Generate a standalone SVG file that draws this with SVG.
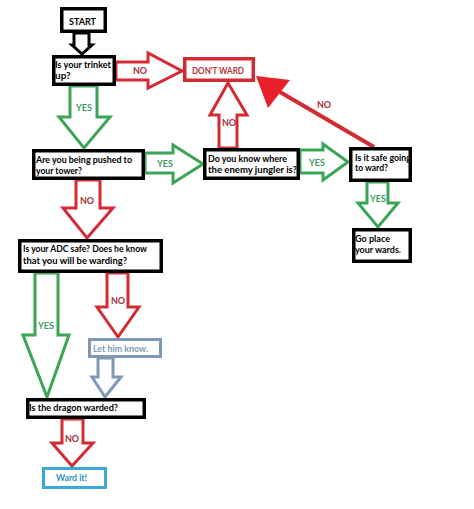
<svg xmlns="http://www.w3.org/2000/svg" width="474" height="509" viewBox="0 0 474 509">
<style>
.bg{fill:#fff}
.bx{fill:#fff;stroke:#000;stroke-width:3.5}
.rbx{fill:#fff;stroke:#d42a33;stroke-width:3.5}
.blbx{fill:#fff;stroke:#7f98b8;stroke-width:3}
.cybx{fill:#fff;stroke:#3aa8db;stroke-width:3}
.ag{fill:#fff;stroke:#3aa655;stroke-width:3;stroke-linejoin:miter}
.ar{fill:#fff;stroke:#d42a33;stroke-width:3;stroke-linejoin:miter}
.ak{fill:#fff;stroke:#000;stroke-width:3}
.ab{fill:#fff;stroke:#7f98b8;stroke-width:3}
text{font-family:Lato,"Liberation Sans",sans-serif;font-weight:bold;font-size:10px}
.t{fill:#000}
.yes{fill:#3c9a62;font-size:9px}
.no{fill:#a8303a;font-size:9px}
.rt{fill:#b5343b}
.bt{fill:#7f98b8}
.ct{fill:#2c8fc0}
</style>
<rect class="bg" x="0" y="0" width="474" height="509"/>
<g id="connectors">
<polygon class="ak" points="74,33 89,33 89,45 92,45 82,54 72,45 74,45"/>
<polygon class="ar" points="116,62 148,62 148,53 182,71 148,88 148,80 116,80"/>
<polygon class="ag" points="70,86 97,86 97,117 110,117 84,148 59,117 70,117"/>
<polygon class="ag" points="145,153 173,153 173,145 203,164 173,183 173,173 145,173"/>
<polygon class="ar" points="219,148 219,115 210,115 228,83 247,115 237,115 237,148"/>
<polygon class="ag" points="300,150 323,150 323,144 348,162 323,180 323,173 300,173"/>
<line x1="374" y1="147" x2="280" y2="92" stroke="#d42a33" stroke-width="4"/>
<polygon points="256,76 290,80 268,108" fill="#e8202a"/>
<polygon class="ag" points="367,182 388,182 388,203 398,203 378,227 358,203 367,203"/>
<polygon class="ar" points="76,180 100,180 100,208 113,208 87,238 63,208 76,208"/>
<polygon class="ag" points="35,273 58,273 58,335 69,335 47,397 23,335 35,335"/>
<polygon class="ar" points="107,273 128,273 128,307 139,307 118,337 97,307 107,307"/>
<polygon class="ab" points="98,358 113,358 113,377 121,377 105,397 92,377 98,377"/>
<polygon class="ar" points="62,419 83,419 83,443 93,443 72,466 52,443 62,443"/>
<text class="no" x="140" y="74" text-anchor="middle">NO</text>
<text class="yes" x="84" y="111" text-anchor="middle">YES</text>
<text class="yes" x="165" y="167" text-anchor="middle">YES</text>
<text class="no" x="229" y="126" text-anchor="middle">NO</text>
<text class="yes" x="317" y="166" text-anchor="middle">YES</text>
<text class="no" x="324" y="108" text-anchor="middle">NO</text>
<text class="yes" x="378" y="202" text-anchor="middle">YES</text>
<text class="no" x="87" y="204" text-anchor="middle">NO</text>
<text class="yes" x="46" y="329" text-anchor="middle">YES</text>
<text class="no" x="118" y="304" text-anchor="middle">NO</text>
<text class="no" x="72" y="442" text-anchor="middle">NO</text>
</g>
<g id="start">
<rect class="bx" x="61.75" y="8.75" width="43.5" height="22.5"/>
<text class="t" x="82.5" y="24.5" text-anchor="middle" textLength="27" lengthAdjust="spacingAndGlyphs">START</text>
</g>
<g id="trinket">
<rect class="bx" x="53.75" y="56.75" width="60.5" height="27.5"/>
<text class="t" x="55" y="67.5" textLength="56" lengthAdjust="spacingAndGlyphs">Is your trinket</text>
<text class="t" x="55" y="78.5">up?</text>
</g>
<g id="dontward">
<rect class="rbx" x="184.75" y="58.75" width="68.5" height="21.5"/>
<text class="rt" x="218" y="73.5" text-anchor="middle" textLength="52" lengthAdjust="spacingAndGlyphs">DON'T WARD</text>
</g>
<g id="pushed">
<rect class="bx" x="33.75" y="150.75" width="109.5" height="27.5"/>
<text class="t" x="36" y="162.5" textLength="96" lengthAdjust="spacingAndGlyphs">Are you being pushed to</text>
<text class="t" x="36" y="174" textLength="46" lengthAdjust="spacingAndGlyphs">your tower?</text>
</g>
<g id="jungler">
<rect class="bx" x="204.75" y="149.75" width="93.5" height="28.5"/>
<text class="t" x="208" y="161.5" textLength="79" lengthAdjust="spacingAndGlyphs">Do you know where</text>
<text class="t" x="208" y="172.5" textLength="89" lengthAdjust="spacingAndGlyphs">the enemy jungler is?</text>
</g>
<g id="safe">
<rect class="bx" x="350.75" y="148.75" width="59.5" height="31.5"/>
<text class="t" x="355" y="160.5" textLength="56" lengthAdjust="spacingAndGlyphs">Is it safe going</text>
<text class="t" x="355" y="171" textLength="33" lengthAdjust="spacingAndGlyphs">to ward?</text>
</g>
<g id="goplace">
<rect class="bx" x="353.75" y="229.75" width="56.5" height="31.5"/>
<text class="t" x="355" y="241.5" textLength="35" lengthAdjust="spacingAndGlyphs">Go place</text>
<text class="t" x="355" y="252.5" textLength="46" lengthAdjust="spacingAndGlyphs">your wards.</text>
</g>
<g id="adc">
<rect class="bx" x="19.75" y="240.75" width="141.5" height="30.5"/>
<text class="t" x="23" y="251.5" textLength="124" lengthAdjust="spacingAndGlyphs">Is your ADC safe? Does he know</text>
<text class="t" x="23" y="263.5" textLength="104" lengthAdjust="spacingAndGlyphs">that you will be warding?</text>
</g>
<g id="lethim">
<rect class="blbx" x="89.5" y="339.5" width="71" height="17"/>
<text class="bt" x="93" y="351.5" textLength="55" lengthAdjust="spacingAndGlyphs">Let him know.</text>
</g>
<g id="dragon">
<rect class="bx" x="27.75" y="399.75" width="116.5" height="17.5"/>
<text class="t" x="29" y="411" textLength="89" lengthAdjust="spacingAndGlyphs">Is the dragon warded?</text>
</g>
<g id="wardit">
<rect class="cybx" x="43.5" y="468.5" width="62" height="19"/>
<text class="ct" x="56" y="481" textLength="31" lengthAdjust="spacingAndGlyphs">Ward it!</text>
</g>
</svg>
